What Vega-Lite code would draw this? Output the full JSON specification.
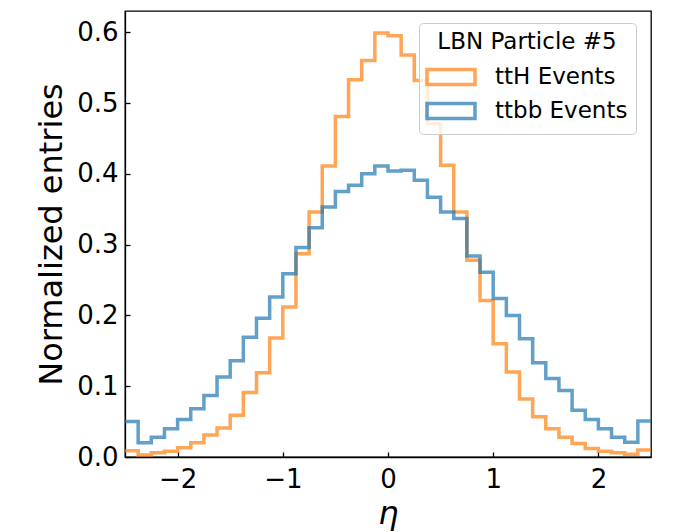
{
  "$schema": "https://vega.github.io/schema/vega-lite/v6.json",
  "width": 526,
  "height": 446,
  "autosize": {"type": "none"},
  "padding": {"left": 125, "top": 11, "right": 27, "bottom": 75},
  "background": "white",
  "config": {
    "font": "DejaVu Sans",
    "view": {"stroke": "black", "strokeWidth": 1.3},
    "axis": {
      "grid": false,
      "domainColor": "black",
      "domainWidth": 1.3,
      "tickColor": "black",
      "tickWidth": 1.3,
      "tickSize": -5,
      "labelColor": "black",
      "titleColor": "black",
      "labelFontSize": 26,
      "titleFontWeight": "normal",
      "titleFontSize": 32
    }
  },
  "data": {
    "values": [
      {"sample": "ttH Events", "lo": -2.5, "hi": -2.375, "v": 0.009},
      {"sample": "ttH Events", "lo": -2.375, "hi": -2.25, "v": 0.003},
      {"sample": "ttH Events", "lo": -2.25, "hi": -2.125, "v": 0.006},
      {"sample": "ttH Events", "lo": -2.125, "hi": -2.0, "v": 0.008},
      {"sample": "ttH Events", "lo": -2.0, "hi": -1.875, "v": 0.013},
      {"sample": "ttH Events", "lo": -1.875, "hi": -1.75, "v": 0.02},
      {"sample": "ttH Events", "lo": -1.75, "hi": -1.625, "v": 0.031},
      {"sample": "ttH Events", "lo": -1.625, "hi": -1.5, "v": 0.041},
      {"sample": "ttH Events", "lo": -1.5, "hi": -1.375, "v": 0.059},
      {"sample": "ttH Events", "lo": -1.375, "hi": -1.25, "v": 0.091},
      {"sample": "ttH Events", "lo": -1.25, "hi": -1.125, "v": 0.119},
      {"sample": "ttH Events", "lo": -1.125, "hi": -1.0, "v": 0.168},
      {"sample": "ttH Events", "lo": -1.0, "hi": -0.875, "v": 0.212},
      {"sample": "ttH Events", "lo": -0.875, "hi": -0.75, "v": 0.287},
      {"sample": "ttH Events", "lo": -0.75, "hi": -0.625, "v": 0.346},
      {"sample": "ttH Events", "lo": -0.625, "hi": -0.5, "v": 0.411},
      {"sample": "ttH Events", "lo": -0.5, "hi": -0.375, "v": 0.481},
      {"sample": "ttH Events", "lo": -0.375, "hi": -0.25, "v": 0.533},
      {"sample": "ttH Events", "lo": -0.25, "hi": -0.125, "v": 0.56},
      {"sample": "ttH Events", "lo": -0.125, "hi": 0.0, "v": 0.599},
      {"sample": "ttH Events", "lo": 0.0, "hi": 0.125, "v": 0.595},
      {"sample": "ttH Events", "lo": 0.125, "hi": 0.25, "v": 0.568},
      {"sample": "ttH Events", "lo": 0.25, "hi": 0.375, "v": 0.532},
      {"sample": "ttH Events", "lo": 0.375, "hi": 0.5, "v": 0.471},
      {"sample": "ttH Events", "lo": 0.5, "hi": 0.625, "v": 0.412},
      {"sample": "ttH Events", "lo": 0.625, "hi": 0.75, "v": 0.346},
      {"sample": "ttH Events", "lo": 0.75, "hi": 0.875, "v": 0.278},
      {"sample": "ttH Events", "lo": 0.875, "hi": 1.0, "v": 0.221},
      {"sample": "ttH Events", "lo": 1.0, "hi": 1.125, "v": 0.16},
      {"sample": "ttH Events", "lo": 1.125, "hi": 1.25, "v": 0.12},
      {"sample": "ttH Events", "lo": 1.25, "hi": 1.375, "v": 0.082},
      {"sample": "ttH Events", "lo": 1.375, "hi": 1.5, "v": 0.057},
      {"sample": "ttH Events", "lo": 1.5, "hi": 1.625, "v": 0.04},
      {"sample": "ttH Events", "lo": 1.625, "hi": 1.75, "v": 0.028},
      {"sample": "ttH Events", "lo": 1.75, "hi": 1.875, "v": 0.019},
      {"sample": "ttH Events", "lo": 1.875, "hi": 2.0, "v": 0.012},
      {"sample": "ttH Events", "lo": 2.0, "hi": 2.125, "v": 0.008},
      {"sample": "ttH Events", "lo": 2.125, "hi": 2.25, "v": 0.006},
      {"sample": "ttH Events", "lo": 2.25, "hi": 2.375, "v": 0.004},
      {"sample": "ttH Events", "lo": 2.375, "hi": 2.5, "v": 0.01},
      {"sample": "ttbb Events", "lo": -2.5, "hi": -2.375, "v": 0.05},
      {"sample": "ttbb Events", "lo": -2.375, "hi": -2.25, "v": 0.02},
      {"sample": "ttbb Events", "lo": -2.25, "hi": -2.125, "v": 0.028},
      {"sample": "ttbb Events", "lo": -2.125, "hi": -2.0, "v": 0.04},
      {"sample": "ttbb Events", "lo": -2.0, "hi": -1.875, "v": 0.053},
      {"sample": "ttbb Events", "lo": -1.875, "hi": -1.75, "v": 0.068},
      {"sample": "ttbb Events", "lo": -1.75, "hi": -1.625, "v": 0.087},
      {"sample": "ttbb Events", "lo": -1.625, "hi": -1.5, "v": 0.113},
      {"sample": "ttbb Events", "lo": -1.5, "hi": -1.375, "v": 0.136},
      {"sample": "ttbb Events", "lo": -1.375, "hi": -1.25, "v": 0.169},
      {"sample": "ttbb Events", "lo": -1.25, "hi": -1.125, "v": 0.196},
      {"sample": "ttbb Events", "lo": -1.125, "hi": -1.0, "v": 0.226},
      {"sample": "ttbb Events", "lo": -1.0, "hi": -0.875, "v": 0.259},
      {"sample": "ttbb Events", "lo": -0.875, "hi": -0.75, "v": 0.296},
      {"sample": "ttbb Events", "lo": -0.75, "hi": -0.625, "v": 0.324},
      {"sample": "ttbb Events", "lo": -0.625, "hi": -0.5, "v": 0.353},
      {"sample": "ttbb Events", "lo": -0.5, "hi": -0.375, "v": 0.375},
      {"sample": "ttbb Events", "lo": -0.375, "hi": -0.25, "v": 0.384},
      {"sample": "ttbb Events", "lo": -0.25, "hi": -0.125, "v": 0.4},
      {"sample": "ttbb Events", "lo": -0.125, "hi": 0.0, "v": 0.411},
      {"sample": "ttbb Events", "lo": 0.0, "hi": 0.125, "v": 0.404},
      {"sample": "ttbb Events", "lo": 0.125, "hi": 0.25, "v": 0.405},
      {"sample": "ttbb Events", "lo": 0.25, "hi": 0.375, "v": 0.391},
      {"sample": "ttbb Events", "lo": 0.375, "hi": 0.5, "v": 0.367},
      {"sample": "ttbb Events", "lo": 0.5, "hi": 0.625, "v": 0.346},
      {"sample": "ttbb Events", "lo": 0.625, "hi": 0.75, "v": 0.337},
      {"sample": "ttbb Events", "lo": 0.75, "hi": 0.875, "v": 0.284},
      {"sample": "ttbb Events", "lo": 0.875, "hi": 1.0, "v": 0.261},
      {"sample": "ttbb Events", "lo": 1.0, "hi": 1.125, "v": 0.224},
      {"sample": "ttbb Events", "lo": 1.125, "hi": 1.25, "v": 0.2},
      {"sample": "ttbb Events", "lo": 1.25, "hi": 1.375, "v": 0.167},
      {"sample": "ttbb Events", "lo": 1.375, "hi": 1.5, "v": 0.133},
      {"sample": "ttbb Events", "lo": 1.5, "hi": 1.625, "v": 0.111},
      {"sample": "ttbb Events", "lo": 1.625, "hi": 1.75, "v": 0.094},
      {"sample": "ttbb Events", "lo": 1.75, "hi": 1.875, "v": 0.066},
      {"sample": "ttbb Events", "lo": 1.875, "hi": 2.0, "v": 0.053},
      {"sample": "ttbb Events", "lo": 2.0, "hi": 2.125, "v": 0.04},
      {"sample": "ttbb Events", "lo": 2.125, "hi": 2.25, "v": 0.028},
      {"sample": "ttbb Events", "lo": 2.25, "hi": 2.375, "v": 0.021},
      {"sample": "ttbb Events", "lo": 2.375, "hi": 2.5, "v": 0.051}
    ]
  },
  "transform": [
    {"fold": ["lo", "hi"], "as": ["edge", "eta"]}
  ],
  "mark": {"type": "line", "strokeWidth": 3.5, "opacity": 0.7, "clip": true},
  "encoding": {
    "x": {
      "field": "eta",
      "type": "quantitative",
      "scale": {"domain": [-2.5, 2.5], "nice": false, "zero": false},
      "axis": {
        "values": [-2, -1, 0, 1, 2],
        "format": "d",
        "labelPadding": 14,
        "title": "η",
        "titleFont": "DejaVu Sans",
        "titleFontStyle": "italic",
        "titlePadding": 6
      }
    },
    "y": {
      "field": "v",
      "type": "quantitative",
      "scale": {"domain": [0, 0.63], "nice": false},
      "axis": {
        "values": [0, 0.1, 0.2, 0.3, 0.4, 0.5, 0.6],
        "format": ".1f",
        "labelPadding": 12,
        "title": "Normalized entries",
        "titlePadding": 8
      }
    },
    "color": {
      "field": "sample",
      "type": "nominal",
      "scale": {"domain": ["ttH Events", "ttbb Events"], "range": ["#ff7f0e", "#1f77b4"]},
      "legend": {
        "title": "LBN Particle #5",
        "orient": "none",
        "legendX": 294,
        "legendY": 12,
        "padding": 8,
        "fillColor": "rgba(255,255,255,0.8)",
        "strokeColor": "#cccccc",
        "cornerRadius": 4,
        "titleFontSize": 23,
        "titleFontWeight": "normal",
        "titleColor": "black",
        "titleAnchor": "middle",
        "titlePadding": 11,
        "labelFontSize": 23,
        "labelColor": "black",
        "labelOffset": 44,
        "rowPadding": 4,
        "symbolType": "M-1.2,-0.75H3.6V0.75H-1.2Z",
        "symbolSize": 400,
        "symbolStrokeWidth": 3.5,
        "symbolOpacity": 0.7,
        "symbolFillColor": "transparent"
      }
    },
    "order": [
      {"field": "eta", "type": "quantitative", "sort": "ascending"},
      {"field": "edge", "type": "nominal", "sort": "ascending"}
    ]
  }
}
